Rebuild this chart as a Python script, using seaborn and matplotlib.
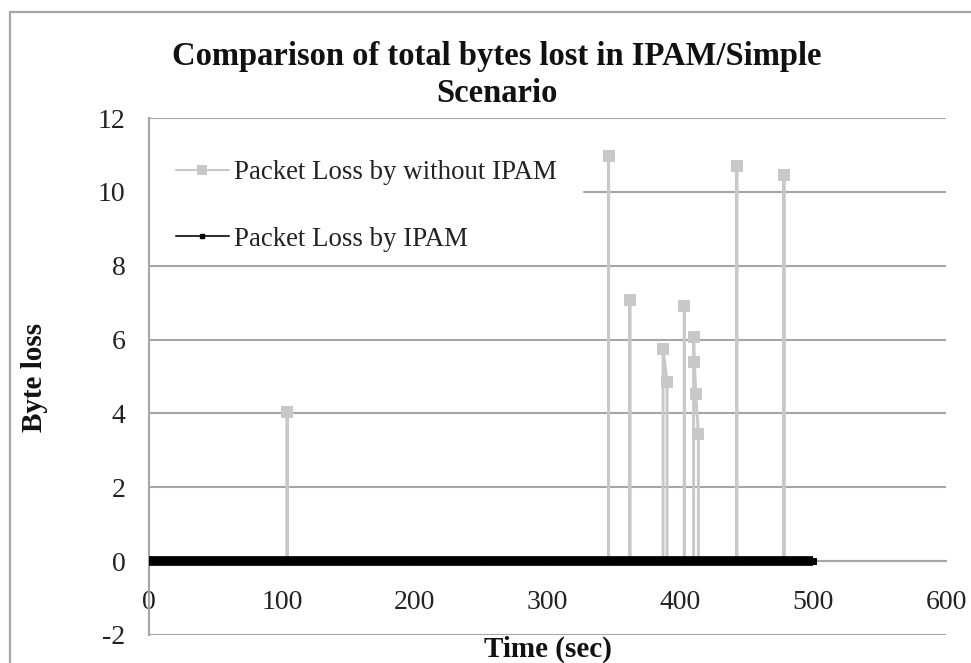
import numpy as np
import matplotlib
matplotlib.use("Agg")
import matplotlib.pyplot as plt
import seaborn as sns
from matplotlib.lines import Line2D
from matplotlib.patches import Rectangle

sns.set_theme(style="white")
plt.rcParams['font.family'] = ['Liberation Serif', 'DejaVu Serif']
plt.rcParams['axes.unicode_minus'] = False

### Data ###

# without IPAM: spikes from zero at the loss events (time in sec, byte loss)
noipam_t = [0, 104, 104, 104, 346, 346, 346, 362, 362, 362, 387, 387, 390, 390,
            403, 403, 403, 410, 410, 410.6, 411.6, 413.6, 413.6,
            442.5, 442.5, 442.5, 478, 478, 478, 500]
noipam_loss = [0, 0, 4.04, 0, 0, 10.98, 0, 0, 7.07, 0, 0, 5.74, 4.86, 0,
               0, 6.92, 0, 0, 6.06, 5.40, 4.52, 3.44, 0,
               0, 10.70, 0, 0, 10.46, 0, 0]

# with IPAM: no loss over the whole run
ipam_t = [0, 50, 100, 150, 200, 250, 300, 350, 400, 450, 500]
ipam_loss = [0, 0, 0, 0, 0, 0, 0, 0, 0, 0, 0]

x_ticks = [0, 100, 200, 300, 400, 500, 600]
y_ticks = [-2, 0, 2, 4, 6, 8, 10, 12]

labels = ["Packet Loss by without IPAM", "Packet Loss by IPAM"]
title = "Comparison of total bytes lost in IPAM/Simple\nScenario"

### Plot ###

W, H = 971, 663
fig = plt.figure(figsize=(W / 100, H / 100), dpi=100)
ax = fig.add_axes([149 / W, 1 - 635 / H, (946 - 149) / W, (635 - 118) / H])

# outer chart border
fig.patches.append(Rectangle((10 / W, -0.1), 1.2, 1 - 12 / H + 0.1,
                             transform=fig.transFigure, fill=False,
                             edgecolor="#a6a6a6", linewidth=1.6))

grid_c = "#a6a6a6"
for yv in y_ticks:
    # the legend sits over the left part of the 10 gridline
    xmin = 0.546 if yv == 10 else 0
    ax.axhline(yv, xmin=xmin, color=grid_c, linewidth=1.5, zorder=0)

peaks = [i for i, v in enumerate(noipam_loss) if v > 0]
sns.lineplot(x=noipam_t, y=noipam_loss, sort=False, estimator=None, ax=ax,
             color="#c8c8c8", linewidth=2.1, marker="s", markersize=8,
             markeredgewidth=0, markevery=peaks, zorder=2)
sns.lineplot(x=ipam_t, y=ipam_loss, sort=False, estimator=None, ax=ax,
             color="black", linewidth=7, marker="s", markersize=4,
             markerfacecolor="black", markeredgecolor="black",
             solid_capstyle="butt", zorder=3)

ax.set_xlim(0, 600)
ax.set_ylim(-2, 12)
ax.set_xticks(x_ticks)
ax.set_yticks(y_ticks)
ax.set_xlabel("")
ax.set_ylabel("")

for s in ['top', 'right']:
    ax.spines[s].set_visible(False)
ax.spines['bottom'].set_position(('data', 0))
ax.spines['bottom'].set_color(grid_c)
ax.spines['bottom'].set_linewidth(1.5)
ax.spines['bottom'].set_zorder(0)
ax.spines['left'].set_color(grid_c)
ax.spines['left'].set_linewidth(1.5)
ax.tick_params(axis='x', length=0, pad=21, labelsize=20, colors="#222222")
ax.tick_params(axis='y', length=0, pad=17, labelsize=20, colors="#222222")

handles = [Line2D([], [], color="#c8c8c8", lw=1.5, marker="s", ms=7.5, mew=0),
           Line2D([], [], color="#333333", lw=1.5, marker="s", ms=3.5,
                  mfc="black", mec="black")]
leg = ax.legend(handles, labels, loc="upper left",
                bbox_to_anchor=(176 / W, 1 - 160 / H),
                bbox_transform=fig.transFigure, borderaxespad=0,
                fontsize=19.4, frameon=False,
                handlelength=1.95, handletextpad=0.22, labelspacing=1.55,
                borderpad=0)
for t in leg.get_texts():
    t.set_color("#222222")

fig.text(497 / W, 1 - 75 / H, title, ha="center", va="center",
         fontsize=23.5, fontweight="bold", linespacing=1.25, color="#111111")
fig.text(35 / W, 1 - 377 / H, "Byte loss", rotation=90, ha="center",
         va="center", fontsize=21, fontweight="bold", color="#111111")
fig.text(548 / W, 1 - 649 / H, "Time (sec)", ha="center", va="center",
         fontsize=21, fontweight="bold", color="#111111")

fig.savefig("out.png", dpi=100)
